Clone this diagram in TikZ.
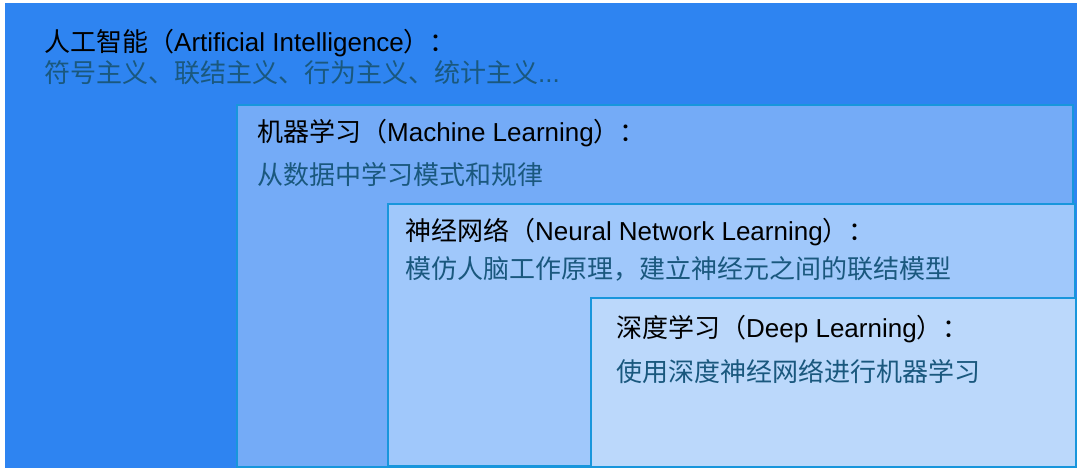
\documentclass[tikz,border=0pt]{standalone}
\usepackage{fontspec}
\setmainfont{Liberation Sans}
\newfontfamily\cjk{Noto Sans CJK SC}
\definecolor{aiBlue}{RGB}{46,132,241}
\definecolor{mlBlue}{RGB}{116,171,247}
\definecolor{nnBlue}{RGB}{160,200,251}
\definecolor{dlBlue}{RGB}{187,216,251}
\definecolor{edgeBlue}{RGB}{24,150,220}
\definecolor{subText}{RGB}{26,88,126}

\tikzset{
  titleText/.style={anchor=west, inner sep=0pt, text height=0.8em, text depth=0.2em,
    font=\fontsize{26bp}{30bp}\selectfont, text=black},
  subLine/.style={titleText, text=subText},
  levelBox/.style={draw=edgeBlue, line width=2.2bp}
}

\begin{document}
\begin{tikzpicture}[yscale=-1, x=1bp, y=1bp]
    \useasboundingbox (0,0) rectangle (1080,471);

    % Define the corners of the boxes
    \coordinate (aiPos) at (5, 3);
    \coordinate (mlPos) at (237, 105);
    \coordinate (nnPos) at (388, 204);
    \coordinate (dlPos) at (591, 298);

    % Draw the boxes
    \fill[aiBlue] (aiPos) rectangle (1077, 468);
    \filldraw[levelBox, fill=mlBlue] (mlPos) rectangle (1073, 467);
    \filldraw[levelBox, fill=nnBlue] (nnPos) rectangle (1075, 466);
    \filldraw[levelBox, fill=dlBlue] (dlPos) rectangle (1076, 467);

    % Draw the labels
    \node[titleText] (aiTitle) at (44, 49) {{\cjk 人工智能（}Artificial Intelligence{\cjk ）：}};
    \node[subLine] (aiSub) at (44, 80) {{\cjk 符号主义、联结主义、行为主义、统计主义}...};

    \node[titleText] (mlTitle) at (257, 139) {{\cjk 机器学习（}Machine Learning{\cjk ）：}};
    \node[subLine] (mlSub) at (257, 182) {\cjk 从数据中学习模式和规律};

    \node[titleText] (nnTitle) at (405, 238) {{\cjk 神经网络（}Neural Network Learning{\cjk ）：}};
    \node[subLine] (nnSub) at (405, 276) {\cjk 模仿人脑工作原理，建立神经元之间的联结模型};

    \node[titleText] (dlTitle) at (616, 335) {{\cjk 深度学习（}Deep Learning{\cjk ）：}};
    \node[subLine] (dlSub) at (616, 379) {\cjk 使用深度神经网络进行机器学习};
\end{tikzpicture}
\end{document}
